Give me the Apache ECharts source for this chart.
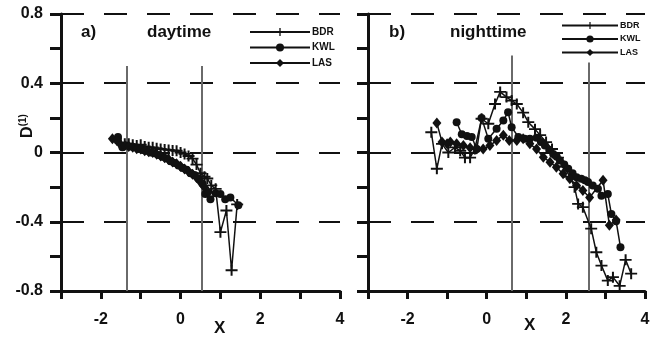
<!DOCTYPE html>
<html>
<head>
<meta charset="utf-8">
<script src="https://cdn.jsdelivr.net/npm/echarts@6/dist/echarts.min.js"></script>
<style>
html,body{margin:0;padding:0;background:#fff;}
#c{width:661px;height:341px;}
</style>
</head>
<body>
<div id="c"></div>
<script>
// ---- data ----
const SERIES_NAMES = ['BDR', 'KWL', 'LAS'];
const X_TICK_LABELS = [-2, 0, 2, 4];
const Y_TICK_LABELS = [-0.8, -0.4, 0, 0.4, 0.8];

const DAY_BDR = [[-1.5,0.055],[-1.4,0.05],[-1.3,0.05],[-1.2,0.045],[-1.1,0.04],[-1.0,0.045],[-0.9,0.035],[-0.8,0.03],[-0.7,0.03],[-0.6,0.025],[-0.5,0.02],[-0.4,0.018],[-0.3,0.015],[-0.2,0.012],[-0.1,0.01],[0.0,0.0],[0.1,-0.008],[0.2,-0.02],[0.3,-0.035],[0.4,-0.07],[0.5,-0.12],[0.6,-0.14],[0.67,-0.15],[0.77,-0.19],[0.88,-0.21],[1.0,-0.46],[1.15,-0.335],[1.28,-0.68],[1.42,-0.30]];
const DAY_KWL = [[-1.57,0.09],[-1.46,0.03],[-1.35,0.04],[-1.25,0.035],[-1.15,0.03],[-1.05,0.02],[-0.95,0.015],[-0.85,0.01],[-0.75,0.0],[-0.65,-0.005],[-0.55,-0.015],[-0.45,-0.025],[-0.35,-0.035],[-0.25,-0.05],[-0.15,-0.06],[-0.05,-0.075],[0.05,-0.09],[0.15,-0.1],[0.25,-0.12],[0.35,-0.13],[0.45,-0.15],[0.55,-0.18],[0.62,-0.24],[0.75,-0.27],[0.88,-0.235],[1.0,-0.24],[1.12,-0.27],[1.25,-0.26],[1.45,-0.305]];
const DAY_LAS = [[-1.71,0.08],[-1.6,0.07],[-1.5,0.045],[-1.4,0.04],[-1.3,0.035],[-1.2,0.03],[-1.1,0.022],[-1.0,0.02],[-0.9,0.01],[-0.8,0.005],[-0.7,0.0],[-0.6,-0.01],[-0.5,-0.02],[-0.4,-0.03],[-0.3,-0.04],[-0.2,-0.055],[-0.1,-0.065],[0.0,-0.08],[0.1,-0.095],[0.2,-0.11],[0.3,-0.125],[0.4,-0.145],[0.5,-0.17],[0.6,-0.2],[0.7,-0.23]];

const NIGHT_BDR = [[-1.40,0.117],[-1.26,-0.094],[-1.13,0.05],[-0.97,0.0],[-0.8,0.03],[-0.67,0.01],[-0.55,-0.03],[-0.42,-0.03],[-0.3,0.02],[-0.13,0.195],[0.04,0.166],[0.21,0.28],[0.34,0.35],[0.5,0.32],[0.63,0.3],[0.76,0.28],[0.92,0.23],[1.05,0.175],[1.22,0.135],[1.35,0.1],[1.5,0.06],[1.65,0.02],[1.8,-0.03],[1.95,-0.08],[2.1,-0.14],[2.22,-0.2],[2.31,-0.297],[2.43,-0.316],[2.64,-0.44],[2.77,-0.576],[2.9,-0.653],[3.06,-0.74],[3.19,-0.72],[3.36,-0.77],[3.51,-0.62],[3.65,-0.70]];
const NIGHT_KWL = [[-0.76,0.175],[-0.63,0.105],[-0.5,0.095],[-0.38,0.09],[-0.25,0.02],[-0.13,0.2],[0.04,0.08],[0.25,0.137],[0.42,0.185],[0.54,0.233],[0.63,0.146],[0.8,0.09],[0.96,0.08],[1.09,0.08],[1.26,0.085],[1.37,0.06],[1.47,0.04],[1.58,0.015],[1.68,-0.008],[1.77,-0.025],[1.85,-0.046],[1.96,-0.07],[2.06,-0.094],[2.17,-0.12],[2.27,-0.143],[2.39,-0.152],[2.48,-0.16],[2.56,-0.17],[2.68,-0.19],[2.81,-0.21],[2.9,-0.25],[3.06,-0.24],[3.15,-0.355],[3.27,-0.397],[3.38,-0.547]];
const NIGHT_LAS = [[-1.26,0.17],[-1.13,0.06],[-1.0,0.05],[-0.92,0.06],[-0.76,0.05],[-0.59,0.04],[-0.42,0.027],[-0.25,0.02],[-0.09,0.02],[0.08,0.04],[0.25,0.07],[0.42,0.1],[0.57,0.07],[0.76,0.07],[0.92,0.08],[1.09,0.05],[1.26,0.02],[1.43,-0.027],[1.6,-0.056],[1.76,-0.085],[1.93,-0.123],[2.1,-0.152],[2.27,-0.19],[2.43,-0.22],[2.6,-0.26],[2.94,-0.16],[3.1,-0.42],[3.27,-0.39]];

// vertical reference lines: x position, top y
const DAY_VLINES = [[-1.35, 0.5], [0.54, 0.5]];
const NIGHT_VLINES = [[0.645, 0.56], [2.59, 0.52]];

// ---- chart ----
const FONT = 'Liberation Sans, Arial, sans-serif';
const PLUS = 'path://M-1,-6L1,-6L1,-1L6,-1L6,1L1,1L1,6L-1,6L-1,1L-6,1L-6,-1L-1,-1Z';
const SYMBOLS = { BDR: PLUS, KWL: 'circle', LAS: 'diamond' };
const SIZES = { BDR: [12, 11], KWL: 8, LAS: [9, 11] };

function grids() {
  return [
    { left: 61, right: 321, top: 14, bottom: 50 },
    { left: 368, right: 16, top: 14, bottom: 50 }
  ];
}

function xAxisFor(i) {
  return {
    type: 'value', gridIndex: i, min: -3, max: 4, interval: 1,
    axisLine: { show: true, onZero: false, lineStyle: { color: '#111', width: 3 } },
    axisTick: { show: true, length: 8, lineStyle: { color: '#111', width: 3 } },
    axisLabel: {
      margin: 21, color: '#111', fontFamily: FONT, fontWeight: 'bold', fontSize: 16,
      formatter: v => X_TICK_LABELS.indexOf(Math.round(v)) >= 0 ? String(Math.round(v)) : ''
    },
    splitLine: { show: false }
  };
}

function yAxisFor(i, showLabels) {
  return {
    type: 'value', gridIndex: i, min: -0.8, max: 0.8, interval: 0.2,
    axisLine: { show: true, onZero: false, lineStyle: { color: '#111', width: 3 } },
    axisTick: { show: true, length: 11, lineStyle: { color: '#111', width: 3 } },
    axisLabel: {
      show: showLabels, margin: 18, color: '#111', fontFamily: FONT, fontWeight: 'bold', fontSize: 16,
      formatter: v => {
        const r = Math.round(v * 10) / 10;
        return Y_TICK_LABELS.indexOf(r) >= 0 ? String(r) : '';
      }
    },
    splitLine: { show: false }
  };
}

function gridLineAxis(i) {
  return {
    type: 'value', gridIndex: i, min: -0.8, max: 0.8, interval: 0.4, position: 'left',
    axisLine: { show: false }, axisTick: { show: false }, axisLabel: { show: false },
    splitLine: { show: true, lineStyle: { color: '#111', width: 2, type: [23, 20] } }
  };
}

function makeSeries(name, data, i, vlines) {
  const s = {
    name, type: 'line', data, xAxisIndex: i, yAxisIndex: i * 2,
    symbol: SYMBOLS[name], symbolSize: SIZES[name], showAllSymbol: true,
    lineStyle: { color: '#111', width: 1.5 },
    itemStyle: { color: '#111' },
    z: 3, animation: false
  };
  if (vlines) {
    s.markLine = {
      silent: true, symbol: ['none', 'none'], label: { show: false },
      lineStyle: { color: '#6a6a6a', width: 2, type: 'solid' },
      animation: false, z: 1,
      data: vlines.map(v => [{ coord: [v[0], v[1]] }, { coord: [v[0], -0.8] }])
    };
  }
  return s;
}

const chart = echarts.init(document.getElementById('c'), null, { renderer: 'canvas' });

const option = {
  animation: false,
  backgroundColor: '#fff',
  grid: grids(),
  xAxis: [xAxisFor(0), xAxisFor(1)],
  yAxis: [yAxisFor(0, true), gridLineAxis(0), yAxisFor(1, false), gridLineAxis(1)],
  legend: [
    {
      data: SERIES_NAMES, orient: 'vertical', left: 244, top: 22,
      itemWidth: 60, itemHeight: 10, itemGap: 5.5, itemStyle: { borderWidth: 0 },
      lineStyle: { width: 2 },
      textStyle: { fontFamily: FONT, fontWeight: 'bold', fontSize: 10, color: '#111', padding: [0, 0, 0, -3] },
      selectedMode: false
    },
    {
      data: SERIES_NAMES, orient: 'vertical', left: 556, top: 16,
      itemWidth: 56, itemHeight: 9, itemGap: 4.5,
      lineStyle: { width: 2 },
      textStyle: { fontFamily: FONT, fontWeight: 'bold', fontSize: 9, color: '#111', padding: [0, 0, 0, -3] },
      selectedMode: false
    }
  ],
  series: [
    makeSeries('BDR', DAY_BDR, 0, DAY_VLINES),
    makeSeries('KWL', DAY_KWL, 0),
    makeSeries('LAS', DAY_LAS, 0),
    makeSeries('BDR', NIGHT_BDR, 1, NIGHT_VLINES),
    makeSeries('KWL', NIGHT_KWL, 1),
    makeSeries('LAS', NIGHT_LAS, 1)
  ],
  graphic: [
    { type: 'text', left: 81, top: 24, style: { text: 'a)', font: 'bold 17px ' + FONT, fill: '#111' } },
    { type: 'text', left: 147, top: 24, style: { text: 'daytime', font: 'bold 17px ' + FONT, fill: '#111' } },
    { type: 'text', left: 389, top: 24, style: { text: 'b)', font: 'bold 17px ' + FONT, fill: '#111' } },
    { type: 'text', left: 450, top: 24, style: { text: 'nighttime', font: 'bold 17px ' + FONT, fill: '#111' } },
    { type: 'text', left: 214, top: 320, style: { text: 'X', font: 'bold 17px ' + FONT, fill: '#111' } },
    { type: 'text', left: 524, top: 317, style: { text: 'X', font: 'bold 17px ' + FONT, fill: '#111' } },
    {
      type: 'text', x: 28, y: 126, rotation: Math.PI / 2,
      style: {
        text: '{a|D}{b|(1)}', fill: '#111', align: 'center', verticalAlign: 'middle',
        rich: {
          a: { fontFamily: FONT, fontWeight: 'bold', fontSize: 16, fill: '#111' },
          b: { fontFamily: FONT, fontWeight: 'bold', fontSize: 10, fill: '#111', padding: [0, 0, 9, 0] }
        }
      }
    }
  ]
};
chart.setOption(option);
</script>
</body>
</html>
